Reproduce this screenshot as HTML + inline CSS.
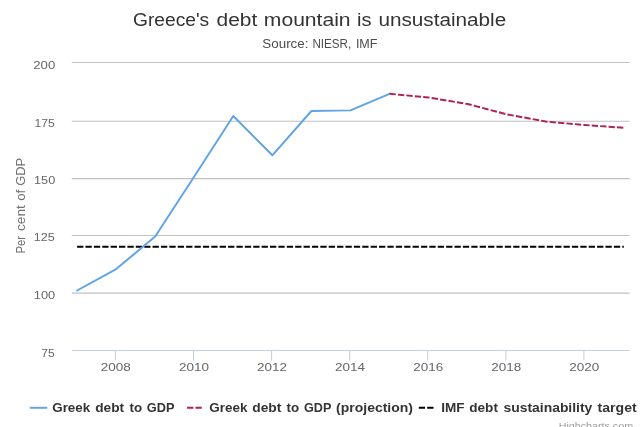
<!DOCTYPE html>
<html>
<head>
<meta charset="utf-8">
<title>Greece's debt mountain is unsustainable</title>
<style>
html,body{margin:0;padding:0;background:#ffffff;}
body{width:640px;height:427px;overflow:hidden;font-family:"Liberation Sans",sans-serif;}
svg{display:block;will-change:transform;}
text{font-family:"Liberation Sans",sans-serif;}
</style>
</head>
<body>
<svg width="640" height="427" viewBox="0 0 640 427">
  <rect x="0" y="0" width="640" height="427" fill="#ffffff"/>
  <!-- horizontal grid lines -->
  <g stroke="#c0c0c0" stroke-width="1.05">
    <line x1="71.8" x2="629.6" y1="62.5" y2="62.5"/>
    <line x1="71.8" x2="629.6" y1="121.3" y2="121.3"/>
    <line x1="71.8" x2="629.6" y1="178.6" y2="178.6"/>
    <line x1="71.8" x2="629.6" y1="235.5" y2="235.5"/>
    <line x1="71.8" x2="629.6" y1="293.1" y2="293.1"/>
  </g>
  <!-- x axis line and ticks -->
  <g stroke="#c0d0e0" stroke-width="1.05">
    <line x1="71.8" x2="629.6" y1="350.5" y2="350.5"/>
    <line x1="115.4" x2="115.4" y1="350.5" y2="360.5"/>
    <line x1="193.5" x2="193.5" y1="350.5" y2="360.5"/>
    <line x1="271.6" x2="271.6" y1="350.5" y2="360.5"/>
    <line x1="349.7" x2="349.7" y1="350.5" y2="360.5"/>
    <line x1="427.7" x2="427.7" y1="350.5" y2="360.5"/>
    <line x1="505.9" x2="505.9" y1="350.5" y2="360.5"/>
    <line x1="583.9" x2="583.9" y1="350.5" y2="360.5"/>
  </g>
  <!-- series: IMF debt sustainability target -->
  <path d="M 77.1 246.7 L 623.8 246.7" fill="none" stroke="#000000" stroke-width="1.95" stroke-dasharray="6.29,2.097"/>
  <!-- series: Greek debt to GDP -->
  <path d="M 77.1 290.5 L 116.15 269.1 L 155.2 236.5 L 194.25 176.5 L 233.3 116.0 L 272.35 155.3 L 311.4 111.0 L 350.45 110.4 L 389.5 93.8"
        fill="none" stroke="#5fa4e8" stroke-width="1.95" stroke-linejoin="round" stroke-linecap="round"/>
  <!-- series: Greek debt to GDP (projection) -->
  <path d="M 389.50 93.80 L 395.80 94.40 M 397.93 94.60 L 404.23 95.20 M 406.35 95.40 L 412.65 95.99 M 414.78 96.20 L 421.08 96.79 M 423.20 96.99 L 428.55 97.50 L 429.50 97.66 M 431.63 98.01 L 437.93 99.06 M 440.06 99.42 L 446.36 100.46 M 448.48 100.82 L 454.78 101.87 M 456.91 102.22 L 463.21 103.27 M 465.33 103.62 L 467.60 104.00 L 471.63 105.06 M 473.76 105.62 L 480.06 107.29 M 482.19 107.85 L 488.49 109.51 M 490.61 110.07 L 496.91 111.73 M 499.04 112.29 L 505.34 113.95 M 507.46 114.45 L 513.76 115.61 M 515.89 116.00 L 522.19 117.17 M 524.32 117.56 L 530.62 118.72 M 532.74 119.11 L 539.04 120.27 M 541.17 120.66 L 545.70 121.50 L 547.47 121.66 M 549.59 121.85 L 555.89 122.41 M 558.02 122.60 L 564.32 123.17 M 566.45 123.36 L 572.75 123.92 M 574.87 124.11 L 581.17 124.68 M 583.30 124.87 L 584.75 125.00 L 589.60 125.35 M 591.72 125.50 L 598.02 125.95 M 600.15 126.10 L 606.45 126.56 M 608.58 126.71 L 614.88 127.16 M 617.00 127.31 L 623.30 127.76" fill="none" stroke="#b0224f" stroke-width="1.95" stroke-linejoin="round"/>
  <!-- legend symbols -->
  <path d="M 29.8 407.8 L 47.3 407.8" stroke="#5fa4e8" stroke-width="1.95" fill="none"/>
  <path d="M 187.1 407.8 L 203.8 407.8" stroke="#b0224f" stroke-width="1.95" stroke-dasharray="6.29,2.097" fill="none"/>
  <path d="M 418.8 407.8 L 435.5 407.8" stroke="#000000" stroke-width="1.95" stroke-dasharray="6.29,2.097" fill="none"/>
  <g transform="translate(25.0,300) rotate(-90)">
    <text x="46.49" y="0.00" font-size="12.6" font-weight="normal" fill="#707070" textLength="17.66" lengthAdjust="spacingAndGlyphs">Per</text>
    <text x="69.05" y="0.00" font-size="12.6" font-weight="normal" fill="#707070" textLength="25.66" lengthAdjust="spacingAndGlyphs">cent</text>
    <text x="99.23" y="0.00" font-size="12.6" font-weight="normal" fill="#707070" textLength="11.08" lengthAdjust="spacingAndGlyphs">of</text>
    <text x="114.18" y="0.00" font-size="12.6" font-weight="normal" fill="#707070" textLength="27.95" lengthAdjust="spacingAndGlyphs">GDP</text>
  </g>
  <text x="132.96" y="26.10" font-size="18.9" font-weight="normal" fill="#333333" textLength="76.27" lengthAdjust="spacingAndGlyphs">Greece&#39;s</text>
  <text x="216.50" y="26.10" font-size="18.9" font-weight="normal" fill="#333333" textLength="40.73" lengthAdjust="spacingAndGlyphs">debt</text>
  <text x="263.85" y="26.10" font-size="18.9" font-weight="normal" fill="#333333" textLength="86.73" lengthAdjust="spacingAndGlyphs">mountain</text>
  <text x="357.07" y="26.10" font-size="18.9" font-weight="normal" fill="#333333" textLength="14.51" lengthAdjust="spacingAndGlyphs">is</text>
  <text x="378.46" y="26.10" font-size="18.9" font-weight="normal" fill="#333333" textLength="127.71" lengthAdjust="spacingAndGlyphs">unsustainable</text>
  <text x="262.39" y="47.50" font-size="12.4" font-weight="normal" fill="#4d4d4d" textLength="46.06" lengthAdjust="spacingAndGlyphs">Source:</text>
  <text x="312.45" y="47.50" font-size="12.4" font-weight="normal" fill="#4d4d4d" textLength="38.79" lengthAdjust="spacingAndGlyphs">NIESR,</text>
  <text x="355.90" y="47.50" font-size="12.4" font-weight="normal" fill="#4d4d4d" textLength="21.59" lengthAdjust="spacingAndGlyphs">IMF</text>
  <text x="52.25" y="411.90" font-size="12.9" font-weight="bold" fill="#333333" textLength="37.94" lengthAdjust="spacingAndGlyphs">Greek</text>
  <text x="95.21" y="411.90" font-size="12.9" font-weight="bold" fill="#333333" textLength="28.93" lengthAdjust="spacingAndGlyphs">debt</text>
  <text x="129.53" y="411.90" font-size="12.9" font-weight="bold" fill="#333333" textLength="12.61" lengthAdjust="spacingAndGlyphs">to</text>
  <text x="146.84" y="411.90" font-size="12.9" font-weight="bold" fill="#333333" textLength="27.63" lengthAdjust="spacingAndGlyphs">GDP</text>
  <text x="209.25" y="411.90" font-size="12.9" font-weight="bold" fill="#333333" textLength="38.16" lengthAdjust="spacingAndGlyphs">Greek</text>
  <text x="252.21" y="411.90" font-size="12.9" font-weight="bold" fill="#333333" textLength="29.14" lengthAdjust="spacingAndGlyphs">debt</text>
  <text x="286.59" y="411.90" font-size="12.9" font-weight="bold" fill="#333333" textLength="12.61" lengthAdjust="spacingAndGlyphs">to</text>
  <text x="304.03" y="411.90" font-size="12.9" font-weight="bold" fill="#333333" textLength="27.34" lengthAdjust="spacingAndGlyphs">GDP</text>
  <text x="336.10" y="411.90" font-size="12.9" font-weight="bold" fill="#333333" textLength="76.85" lengthAdjust="spacingAndGlyphs">(projection)</text>
  <text x="441.30" y="411.90" font-size="12.9" font-weight="bold" fill="#333333" textLength="23.37" lengthAdjust="spacingAndGlyphs">IMF</text>
  <text x="469.31" y="411.90" font-size="12.9" font-weight="bold" fill="#333333" textLength="28.63" lengthAdjust="spacingAndGlyphs">debt</text>
  <text x="503.46" y="411.90" font-size="12.9" font-weight="bold" fill="#333333" textLength="88.89" lengthAdjust="spacingAndGlyphs">sustainability</text>
  <text x="597.57" y="411.90" font-size="12.9" font-weight="bold" fill="#333333" textLength="39.09" lengthAdjust="spacingAndGlyphs">target</text>
  <text x="33.21" y="69.25" font-size="11.5" font-weight="normal" fill="#666666" textLength="22.02" lengthAdjust="spacingAndGlyphs">200</text>
  <text x="34.63" y="126.60" font-size="11.5" font-weight="normal" fill="#666666" textLength="20.25" lengthAdjust="spacingAndGlyphs">175</text>
  <text x="34.02" y="183.90" font-size="11.5" font-weight="normal" fill="#666666" textLength="21.19" lengthAdjust="spacingAndGlyphs">150</text>
  <text x="33.77" y="240.90" font-size="11.5" font-weight="normal" fill="#666666" textLength="21.09" lengthAdjust="spacingAndGlyphs">125</text>
  <text x="33.80" y="298.75" font-size="11.5" font-weight="normal" fill="#666666" textLength="21.42" lengthAdjust="spacingAndGlyphs">100</text>
  <text x="41.37" y="356.75" font-size="11.5" font-weight="normal" fill="#666666" textLength="13.49" lengthAdjust="spacingAndGlyphs">75</text>
  <text x="558.76" y="429.00" font-size="9.5" font-weight="normal" fill="#999999" textLength="74.30" lengthAdjust="spacingAndGlyphs">Highcharts.com</text>
  <text x="100.89" y="371.4" font-size="11.5" fill="#666666" textLength="30.00" lengthAdjust="spacingAndGlyphs">2008</text>
  <text x="178.97" y="371.4" font-size="11.5" fill="#666666" textLength="30.00" lengthAdjust="spacingAndGlyphs">2010</text>
  <text x="257.05" y="371.4" font-size="11.5" fill="#666666" textLength="30.00" lengthAdjust="spacingAndGlyphs">2012</text>
  <text x="335.13" y="371.4" font-size="11.5" fill="#666666" textLength="30.00" lengthAdjust="spacingAndGlyphs">2014</text>
  <text x="413.21" y="371.4" font-size="11.5" fill="#666666" textLength="30.00" lengthAdjust="spacingAndGlyphs">2016</text>
  <text x="491.29" y="371.4" font-size="11.5" fill="#666666" textLength="30.00" lengthAdjust="spacingAndGlyphs">2018</text>
  <text x="569.37" y="371.4" font-size="11.5" fill="#666666" textLength="30.00" lengthAdjust="spacingAndGlyphs">2020</text>
</svg>
</body>
</html>
